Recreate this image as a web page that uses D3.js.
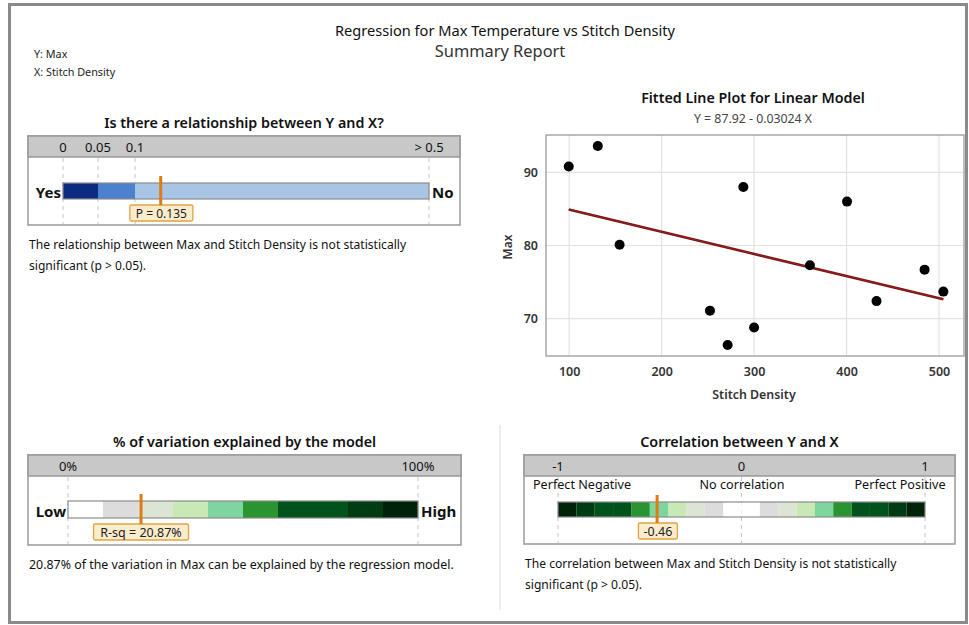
<!DOCTYPE html>
<html>
<head>
<meta charset="utf-8">
<script src="https://cdn.jsdelivr.net/npm/d3@7"></script>
<style>
  body { margin: 0; background: #fff; }
  svg { font-family: "Noto Sans", "Open Sans", sans-serif; }
</style>
</head>
<body>
<svg width="969" height="625"></svg>
<script>
// scatter data
var stitchDensity = [99.6, 131, 154.6, 252.3, 271.4, 288.4, 300, 360.4, 400.5, 432.4, 484.4, 504.7];
var maxTemp = [90.8, 93.6, 80.1, 71.1, 66.4, 88.0, 68.8, 77.3, 86.0, 72.4, 76.7, 73.7];
var intercept = 87.92;
var slope = -0.03024;
var xTicks = [100, 200, 300, 400, 500];
var yTicks = [70, 80, 90];

// p-value bar
var pTicks = [0, 0.05, 0.1, 0.5];
var pTickLabels = ["0", "0.05", "0.1", "> 0.5"];
var pColors = ["#0c2c7f", "#4b81cd", "#a9c5e6"];
var pValue = 0.135;

// r-squared bar
var rsqTicks = [0, 100];
var rsqTickLabels = ["0%", "100%"];
var rsqValue = 20.87;

// correlation bar
var corrTicks = [-1, 0, 1];
var corrTickLabels = ["-1", "0", "1"];
var corrDescr = ["Perfect Negative", "No correlation", "Perfect Positive"];
var corrValue = -0.46;

// one color per 0.1 step of |value|
var greenBins = ["#ffffff", "#dcdcdc", "#dce4d4", "#c8e8b6", "#7fd5a0",
                 "#2a9431", "#00541b", "#00541b", "#003c13", "#002209"];

var svg = d3.select("svg");

// outer frame
svg.append("rect")
    .attr("x", 9.5).attr("y", 4.5)
    .attr("width", 957).attr("height", 618)
    .attr("fill", "none")
    .attr("stroke", "#8a8a8a")
    .attr("stroke-width", 3);

// divider between bottom panels
svg.append("line")
    .attr("x1", 500).attr("x2", 500)
    .attr("y1", 425).attr("y2", 610)
    .attr("stroke", "#dcdcdc");

// headings
svg.append("text").attr("x", 505).attr("y", 36)
    .attr("text-anchor", "middle").attr("font-size", 14.6).attr("fill", "#111")
    .text("Regression for Max Temperature vs Stitch Density");
svg.append("text").attr("x", 500).attr("y", 57)
    .attr("text-anchor", "middle").attr("font-size", 16.4).attr("fill", "#333")
    .text("Summary Report");
svg.append("text").attr("x", 34).attr("y", 58)
    .attr("font-size", 10.8).attr("fill", "#222").text("Y: Max");
svg.append("text").attr("x", 34).attr("y", 76)
    .attr("font-size", 10.8).attr("fill", "#222").text("X: Stitch Density");

// generic gauge panel
function panel(o) {
    var g = svg.append("g");
    g.append("text").attr("x", (o.x0 + o.x1) / 2).attr("y", o.y0 - 8)
        .attr("text-anchor", "middle").attr("font-size", 14.3)
        .attr("font-weight", 600).attr("fill", "#111")
        .text(o.title);
    g.append("rect").attr("x", o.x0).attr("y", o.y0)
        .attr("width", o.x1 - o.x0).attr("height", o.y1 - o.y0)
        .attr("fill", "#fff").attr("stroke", "#999").attr("stroke-width", 1.5);
    g.append("rect").attr("x", o.x0).attr("y", o.y0)
        .attr("width", o.x1 - o.x0).attr("height", 21)
        .attr("fill", "#c8c8c8").attr("stroke", "#999").attr("stroke-width", 1.5);
    // dashed reference lines
    g.selectAll(".ref").data(o.ticks).enter().append("line")
        .attr("x1", function (d) { return o.scale(d); })
        .attr("x2", function (d) { return o.scale(d); })
        .attr("y1", o.y0 + 22).attr("y2", o.y1 - 1)
        .attr("stroke", "#c4c4c4").attr("stroke-dasharray", "4,4");
    g.selectAll(".tl").data(o.ticks).enter().append("text")
        .attr("x", function (d) { return o.scale(d); })
        .attr("y", o.y0 + 15.5)
        .attr("text-anchor", "middle").attr("font-size", 13).attr("fill", "#111")
        .text(function (d, i) { return o.tickLabels[i]; });
    // colored segments
    g.selectAll(".seg").data(o.segments).enter().append("rect")
        .attr("x", function (d) { return o.scale(d.a); })
        .attr("width", function (d) { return o.scale(d.b) - o.scale(d.a); })
        .attr("y", o.barY).attr("height", o.barH)
        .attr("fill", function (d) { return d.c; });
    g.append("rect")
        .attr("x", o.scale(o.ticks[0])).attr("y", o.barY)
        .attr("width", o.scale(o.ticks[o.ticks.length - 1]) - o.scale(o.ticks[0]))
        .attr("height", o.barH)
        .attr("fill", "none").attr("stroke", "#8c8c8c").attr("stroke-width", 1.2);
    if (o.leftLabel) {
        g.append("text").attr("x", o.scale(o.ticks[0]) - 2).attr("y", o.barY + o.barH - 1)
            .attr("text-anchor", "end").attr("font-size", 15).attr("font-weight", 700)
            .attr("fill", "#111").text(o.leftLabel);
        g.append("text").attr("x", o.scale(o.ticks[o.ticks.length - 1]) + 3).attr("y", o.barY + o.barH - 1)
            .attr("font-size", 15).attr("font-weight", 700)
            .attr("fill", "#111").text(o.rightLabel);
    }
    // marker and value label
    var mx = o.scale(o.value);
    g.append("rect").attr("x", mx - o.boxW * o.boxAnchor).attr("y", o.barY + o.barH + 6)
        .attr("width", o.boxW).attr("height", 16).attr("rx", 1.5)
        .attr("fill", "#fbeccc").attr("stroke", "#e2a23f").attr("stroke-width", 1.3);
    g.append("text").attr("x", mx - o.boxW * o.boxAnchor + o.boxW / 2).attr("y", o.barY + o.barH + 19)
        .attr("text-anchor", "middle").attr("font-size", o.valueSize).attr("fill", "#222")
        .text(o.valueLabel);
    g.append("line").attr("x1", mx).attr("x2", mx)
        .attr("y1", o.barY - 7).attr("y2", o.barY + o.barH + 6)
        .attr("stroke", "#e07a12").attr("stroke-width", 3);
    o.note.forEach(function (t, i) {
        g.append("text").attr("x", o.x0 + 1).attr("y", o.y1 + 24 + i * 21)
            .attr("font-size", o.noteSize).attr("fill", "#111").text(t);
    });
    return g;
}

// p-value gauge
var pScale = d3.scaleLinear().domain(pTicks).range([63, 98, 135, 429]);
panel({
    x0: 28, x1: 460, y0: 136, y1: 225,
    title: "Is there a relationship between Y and X?",
    scale: pScale, ticks: pTicks, tickLabels: pTickLabels,
    segments: [{a: 0, b: 0.05, c: pColors[0]}, {a: 0.05, b: 0.1, c: pColors[1]}, {a: 0.1, b: 0.5, c: pColors[2]}],
    barY: 183, barH: 16,
    leftLabel: "Yes", rightLabel: "No",
    value: pValue, valueLabel: "P = 0.135", valueSize: 12, boxW: 63, boxAnchor: 0.49,
    noteSize: 12.1,
    note: ["The relationship between Max and Stitch Density is not statistically",
           "significant (p > 0.05)."]
});

// r-squared gauge
var rsqScale = d3.scaleLinear().domain([0, 100]).range([68, 418]);
panel({
    x0: 28, x1: 461, y0: 455, y1: 545,
    title: "% of variation explained by the model",
    scale: rsqScale, ticks: rsqTicks, tickLabels: rsqTickLabels,
    segments: greenBins.map(function (c, i) { return {a: i * 10, b: i * 10 + 10, c: c}; }),
    barY: 501, barH: 17,
    leftLabel: "Low", rightLabel: "High",
    value: rsqValue, valueLabel: "R-sq = 20.87%", valueSize: 12.5, boxW: 95, boxAnchor: 0.5,
    noteSize: 12.4,
    note: ["20.87% of the variation in Max can be explained by the regression model."]
});

// correlation gauge
var corrScale = d3.scaleLinear().domain([-1, 1]).range([558, 925]);
var corrSegs = [];
greenBins.forEach(function (c, i) {
    corrSegs.push({a: -(i + 1) / 10, b: -i / 10, c: c});
    corrSegs.push({a: i / 10, b: (i + 1) / 10, c: c});
});
var cg = panel({
    x0: 524, x1: 955, y0: 455, y1: 544,
    title: "Correlation between Y and X",
    scale: corrScale, ticks: corrTicks, tickLabels: corrTickLabels,
    segments: corrSegs,
    barY: 502, barH: 15,
    value: corrValue, valueLabel: "-0.46", valueSize: 12.5, boxW: 39, boxAnchor: 0.48,
    noteSize: 12.1,
    note: ["The correlation between Max and Stitch Density is not statistically",
           "significant (p > 0.05)."]
});
cg.selectAll(".descr").data(corrDescr).enter().append("text")
    .attr("x", function (d, i) { return [582, 742, 900][i]; })
    .attr("y", 489)
    .attr("text-anchor", "middle").attr("font-size", 12.6).attr("fill", "#111")
    .text(function (d) { return d; });

// fitted line plot
var pLeft = 546, pRight = 964, pTop = 135, pBottom = 356;
var x = d3.scaleLinear().domain([75, 527]).range([pLeft, pRight]);
var y = d3.scaleLinear().domain([64.9, 95.1]).range([pBottom, pTop]);

svg.append("text").attr("x", 753).attr("y", 103)
    .attr("text-anchor", "middle").attr("font-size", 14.3).attr("font-weight", 600)
    .attr("fill", "#111").text("Fitted Line Plot for Linear Model");
svg.append("text").attr("x", 753).attr("y", 123)
    .attr("text-anchor", "middle").attr("font-size", 12.3).attr("fill", "#444")
    .text("Y = 87.92 - 0.03024 X");

var plot = svg.append("g");
plot.selectAll(".gx").data(xTicks).enter().append("line")
    .attr("x1", function (d) { return x(d); }).attr("x2", function (d) { return x(d); })
    .attr("y1", pTop).attr("y2", pBottom)
    .attr("stroke", "#e2e2e2").attr("stroke-width", 1.2);
plot.selectAll(".gy").data(yTicks).enter().append("line")
    .attr("x1", pLeft).attr("x2", pRight)
    .attr("y1", function (d) { return y(d); }).attr("y2", function (d) { return y(d); })
    .attr("stroke", "#e2e2e2").attr("stroke-width", 1.2);
plot.append("rect").attr("x", pLeft).attr("y", pTop)
    .attr("width", pRight - pLeft).attr("height", pBottom - pTop)
    .attr("fill", "none").attr("stroke", "#9a9a9a").attr("stroke-width", 1.3);

var xAxis = d3.axisBottom(x).tickValues(xTicks).tickSize(0).tickPadding(11);
var yAxis = d3.axisLeft(y).tickValues(yTicks).tickSize(0).tickPadding(8);
var gx = plot.append("g").attr("transform", "translate(0," + pBottom + ")").call(xAxis);
var gy = plot.append("g").attr("transform", "translate(" + pLeft + ",0)").call(yAxis);
[gx, gy].forEach(function (a) {
    a.select(".domain").remove();
    a.selectAll("text").attr("font-size", 12.5).attr("font-weight", 600)
        .attr("fill", "#333").attr("font-family", "Noto Sans, sans-serif");
});

var x0 = d3.min(stitchDensity), x1 = d3.max(stitchDensity);
plot.append("line")
    .attr("x1", x(x0)).attr("y1", y(intercept + slope * x0))
    .attr("x2", x(x1)).attr("y2", y(intercept + slope * x1))
    .attr("stroke", "#6e1414").attr("stroke-width", 2.6);
plot.append("line")
    .attr("x1", x(x0)).attr("y1", y(intercept + slope * x0))
    .attr("x2", x(x1)).attr("y2", y(intercept + slope * x1))
    .attr("stroke", "#b02020").attr("stroke-width", 0.8);

plot.selectAll(".pt").data(stitchDensity).enter().append("circle")
    .attr("cx", function (d) { return x(d); })
    .attr("cy", function (d, i) { return y(maxTemp[i]); })
    .attr("r", 5).attr("fill", "#000");

svg.append("text").attr("x", 754).attr("y", 399)
    .attr("text-anchor", "middle").attr("font-size", 12.4).attr("font-weight", 600)
    .attr("fill", "#333").text("Stitch Density");
svg.append("text")
    .attr("transform", "translate(512,247) rotate(-90)")
    .attr("text-anchor", "middle").attr("font-size", 12).attr("font-weight", 600)
    .attr("fill", "#333").text("Max");
</script>
</body>
</html>
